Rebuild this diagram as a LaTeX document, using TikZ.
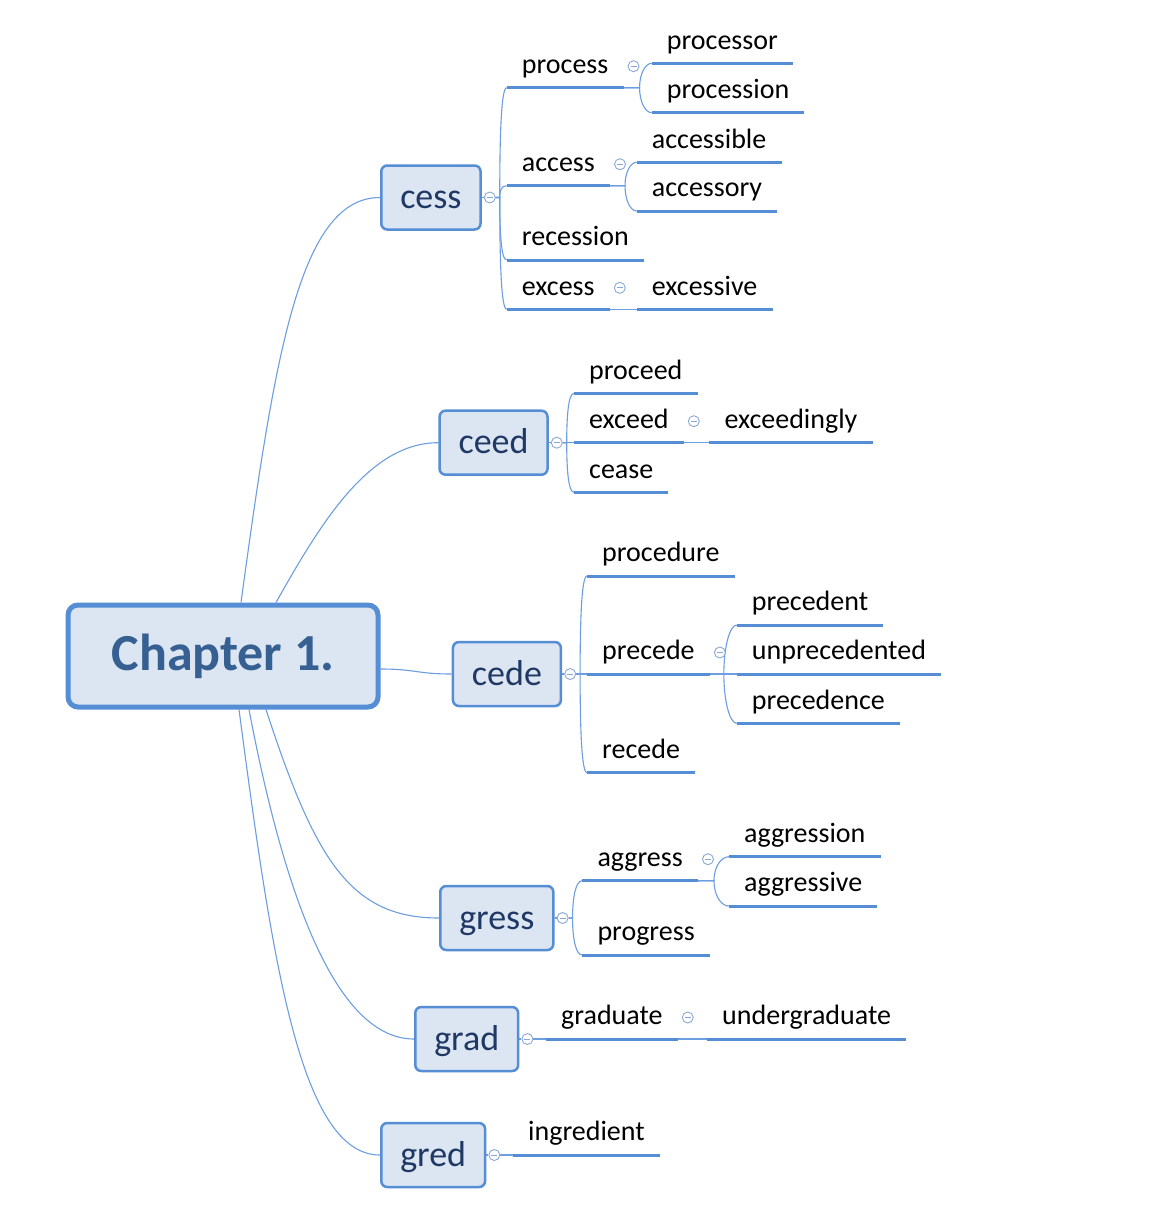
\documentclass[tikz,border=0pt]{standalone}
\usepackage{fontspec}
\setmainfont{Carlito}
\definecolor{bfill}{HTML}{DCE6F2}
\definecolor{bline}{HTML}{558ED5}
\definecolor{cline}{HTML}{6C9EE0}
\definecolor{navy}{HTML}{1F3864}
\definecolor{chtext}{HTML}{366092}
\definecolor{ring}{HTML}{8AA8D6}
\pgfdeclarelayer{bg}
\pgfsetlayers{bg,main}
\begin{document}
\begin{tikzpicture}[x=1pt,y=-1pt,
  topbox/.style={draw=bline, line width=5pt, fill=bfill, rounded corners=10pt,
    minimum width=310pt, minimum height=102pt,
    font=\fontsize{52}{60}\selectfont\bfseries, text=chtext},
  subbox/.style={draw=bline, line width=2.5pt, fill=bfill, rounded corners=6pt,
    minimum height=64pt, inner xsep=19pt, inner ysep=0pt, text height=27pt,
    text depth=5pt, font=\fontsize{36}{43}\selectfont, text=navy, anchor=west},
  leaf/.style={inner xsep=15pt, inner ysep=0pt, text height=20pt, text depth=14pt,
    anchor=south west, font=\fontsize{28}{34}\selectfont, text=black},
  uline/.style={draw=bline, line width=3pt},
  conn/.style={draw=cline, line width=1.1pt},
  tog/.style={circle, draw=ring, line width=0.9pt, fill=white, minimum size=11pt,
    inner sep=0pt, path picture={\draw[ring, line width=0.9pt]
      ([xshift=-3pt]path picture bounding box.center) --
      ([xshift=3pt]path picture bounding box.center);}}
]
\useasboundingbox (0,0) rectangle (1150,1219);
\begin{pgfonlayer}{bg}
\fill[white] (0,0) rectangle (1150,1219);
\end{pgfonlayer}

% root and main topics
\node[topbox] (ch) at (223,656) {Chapter 1.};
\node[subbox] (cess) at (380,197.5) {cess};
\node[subbox] (ceed) at (438.3,442.7) {ceed};
\node[subbox] (cede) at (451.7,674) {cede};
\node[subbox] (gress) at (439,918) {gress};
\node[subbox] (grad) at (414,1039) {grad};
\node[subbox] (gred) at (380,1155) {gred};
\foreach \n in {cess,ceed,cede,gress,grad,gred}
  \node[tog] (\n-t) at ([xshift=8pt]\n.east) {};

% leaves: cess
\node[leaf] (process) at (506.7,87.7) {process};
\node[leaf] (access) at (506.7,185.7) {access};
\node[leaf] (recession) at (506.7,260) {recession};
\node[leaf] (excess) at (506.7,309.3) {excess};
\node[leaf] (processor) at (651.7,63.3) {processor};
\node[leaf] (procession) at (651.7,112.7) {procession};
\node[leaf] (accessible) at (636.7,162.3) {accessible};
\node[leaf] (accessory) at (636.7,211) {accessory};
\node[leaf] (excessive) at (636.7,309.3) {excessive};
% ceed
\node[leaf] (proceed) at (574,393.3) {proceed};
\node[leaf] (exceed) at (574,442.7) {exceed};
\node[leaf] (cease) at (574,492.3) {cease};
\node[leaf] (exceedingly) at (709.3,442.7) {exceedingly};
% cede
\node[leaf] (procedure) at (587,576) {procedure};
\node[leaf] (precede) at (587,674) {precede};
\node[leaf] (recede) at (587,772.7) {recede};
\node[leaf] (precedent) at (736.7,625) {precedent};
\node[leaf] (unprecedented) at (736.7,674) {unprecedented};
\node[leaf] (precedence) at (736.7,723.3) {precedence};
% gress
\node[leaf] (aggress) at (582.3,880.7) {aggress};
\node[leaf] (progress) at (582.3,955) {progress};
\node[leaf] (aggression) at (729,856.7) {aggression};
\node[leaf] (aggressive) at (729,906) {aggressive};
% grad, gred
\node[leaf] (graduate) at (546,1039) {graduate};
\node[leaf] (undergraduate) at (707,1039) {undergraduate};
\node[leaf] (ingredient) at (513,1155) {ingredient};

\foreach \n in {process,access,excess,exceed,precede,aggress,graduate}
  \node[tog] (\n-t) at ([shift={(10pt,21.5pt)}]\n.south east) {};

% underlines
\foreach \n in {process,access,recession,excess,processor,procession,accessible,
  accessory,excessive,proceed,exceed,cease,exceedingly,procedure,precede,recede,
  precedent,unprecedented,precedence,aggress,progress,aggression,aggressive,
  graduate,undergraduate,ingredient}
  \draw[uline] (\n.south west) -- (\n.south east);

\begin{pgfonlayer}{bg}
% root connectors
\draw[conn] ([xshift=18pt]ch.north) .. controls +(34,-250) and +(-80,0) .. (cess.west);
\draw[conn] ([xshift=53pt]ch.north) .. controls +(45,-80) and +(-69,0) .. (ceed.west);
\draw[conn] ([yshift=-13pt]ch.east) .. controls +(35,0) and +(-35,0) .. (cede.west);
\draw[conn] ([xshift=43pt]ch.south) .. controls +(49,150) and +(-89,0) .. (gress.west);
\draw[conn] ([xshift=26pt]ch.south) .. controls +(38,200) and +(-74,0) .. (grad.west);
\draw[conn] ([xshift=16pt]ch.south) .. controls +(33,250) and +(-80,0) .. (gred.west);
\foreach \n in {cess,ceed,cede,gress,grad,gred}
  \draw[conn] (\n.east) -- (\n-t.west);
% cess
\draw[conn] (cess-t.east) -- ++(4,0) .. controls +(0,-60.6) and +(-5.6,0) .. (process.south west);
\draw[conn] (cess-t.east) -- ++(4,0) .. controls +(0,-6.5) and +(-5.6,0) .. (access.south west);
\draw[conn] (cess-t.east) -- ++(4,0) .. controls +(0,34.5) and +(-5.6,0) .. (recession.south west);
\draw[conn] (cess-t.east) -- ++(4,0) .. controls +(0,61.7) and +(-5.6,0) .. (excess.south west);
\draw[conn] (process.south east) -- ++(16,0) .. controls +(0,-13.5) and +(-6.6,0) .. (processor.south west);
\draw[conn] (process.south east) -- ++(16,0) .. controls +(0,13.8) and +(-6.6,0) .. (procession.south west);
\draw[conn] (access.south east) -- ++(15,0) .. controls +(0,-12.9) and +(-6.6,0) .. (accessible.south west);
\draw[conn] (access.south east) -- ++(15,0) .. controls +(0,14) and +(-6.6,0) .. (accessory.south west);
\draw[conn] (excess.south east) -- (excessive.south west);
% ceed
\draw[conn] (ceed-t.east) -- ++(4,0) .. controls +(0,-27.3) and +(-5.6,0) .. (proceed.south west);
\draw[conn] (ceed-t.east) -- (exceed.south west);
\draw[conn] (ceed-t.east) -- ++(4,0) .. controls +(0,27.4) and +(-5.6,0) .. (cease.south west);
\draw[conn] (exceed.south east) -- (exceedingly.south west);
% cede
\draw[conn] (cede-t.east) -- ++(4,0) .. controls +(0,-54) and +(-5.4,0) .. (procedure.south west);
\draw[conn] (cede-t.east) -- (precede.south west);
\draw[conn] (cede-t.east) -- ++(4,0) .. controls +(0,54.5) and +(-5.4,0) .. (recede.south west);
\draw[conn] (precede.south east) -- ++(14,0) .. controls +(0,-27) and +(-7,0) .. (precedent.south west);
\draw[conn] (precede.south east) -- (unprecedented.south west);
\draw[conn] (precede.south east) -- ++(14,0) .. controls +(0,27.2) and +(-7,0) .. (precedence.south west);
% gress
\draw[conn] (gress-t.east) -- ++(4,0) .. controls +(0,-20.6) and +(-6.6,0) .. (aggress.south west);
\draw[conn] (gress-t.east) -- ++(4,0) .. controls +(0,20.4) and +(-6.6,0) .. (progress.south west);
\draw[conn] (aggress.south east) -- ++(16,0) .. controls +(0,-13.2) and +(-8.4,0) .. (aggression.south west);
\draw[conn] (aggress.south east) -- ++(16,0) .. controls +(0,14) and +(-8.4,0) .. (aggressive.south west);
% grad, gred
\draw[conn] (grad-t.east) -- (graduate.south west);
\draw[conn] (graduate.south east) -- (undergraduate.south west);
\draw[conn] (gred-t.east) -- (ingredient.south west);
\end{pgfonlayer}
\end{tikzpicture}
\end{document}
